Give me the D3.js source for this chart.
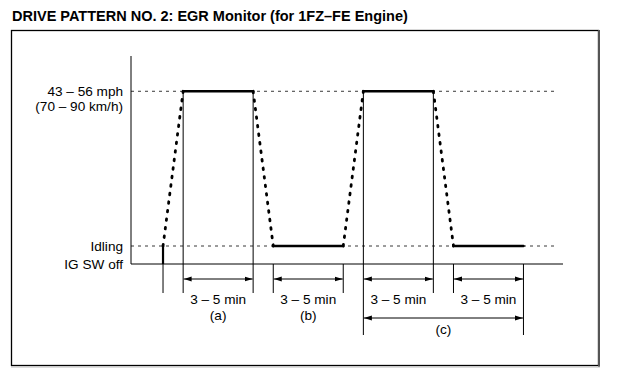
<!DOCTYPE html>
<html lang="en">
<head>
  <meta charset="utf-8">
  <title>Drive pattern no. 2</title>
  <script src="https://d3js.org/d3.v7.min.js"></script>
  <style>
    body { margin: 0; background: #fff; }
    text { font-family: "Liberation Sans", Arial, sans-serif; fill: #000; }
  </style>
</head>
<body>
  <script>
    // speed levels (mph-ish, schematic) and the pattern vertices (minutes)
    var levels = { off: 0, idle: 5, high: 48 };
    var times = [0, 1.15, 5.15, 6.3, 10.3, 11.45, 15.45, 16.6, 20.6];
    var speeds = [5, 48, 48, 5, 5, 48, 48, 5, 5];
    var yLabels = [
      { lines: ["43 – 56 mph", "(70 – 90 km/h)"], level: "high" },
      { lines: ["Idling"], level: "idle" },
      { lines: ["IG SW off"], level: "off" }
    ];
    // intervals below the axis
    var spans = [
      { from: 1.15, to: 5.15, text: "3 – 5 min", sub: "(a)" },
      { from: 6.3, to: 10.3, text: "3 – 5 min", sub: "(b)" },
      { from: 11.45, to: 15.45, text: "3 – 5 min", sub: "" },
      { from: 16.6, to: 20.6, text: "3 – 5 min", sub: "" }
    ];
    var bigSpan = { from: 11.45, to: 20.6, text: "(c)" };

    var W = 618, H = 381;
    var fs = 13.6;
    var x = d3.scaleLinear().domain([-1.83, 22.86]).range([131, 563]);
    var y = d3.scaleLinear().domain([0, 57.8]).range([264, 56]);

    var svg = d3.select("body").append("svg")
      .attr("width", W).attr("height", H);

    var defs = svg.append("defs");
    ["start", "end"].forEach(function(k) {
      defs.append("marker")
        .attr("id", "arr-" + k)
        .attr("viewBox", "0 0 8 6")
        .attr("refX", k == "end" ? 8 : 0).attr("refY", 3)
        .attr("markerWidth", 8).attr("markerHeight", 6)
        .attr("markerUnits", "userSpaceOnUse")
        .attr("orient", "auto")
        .append("path")
        .attr("d", k == "end" ? "M0,0.6L8,3L0,5.4Z" : "M8,0.6L0,3L8,5.4Z")
        .attr("fill", "#000");
    });

    // title
    svg.append("text")
      .attr("x", 12).attr("y", 20.5)
      .attr("font-size", 14.5).attr("font-weight", "bold")
      .text("DRIVE PATTERN NO. 2: EGR Monitor (for 1FZ–FE Engine)");

    // frame
    svg.append("rect")
      .attr("x", 11.5).attr("y", 30.5)
      .attr("width", 587).attr("height", 335)
      .attr("fill", "none").attr("stroke", "#000").attr("stroke-width", 1.3);
    svg.append("line")
      .attr("x1", 599).attr("x2", 599).attr("y1", 30).attr("y2", 367)
      .attr("stroke", "#555").attr("stroke-width", 2);
    svg.append("line")
      .attr("x1", 11).attr("x2", 600).attr("y1", 367).attr("y2", 367)
      .attr("stroke", "#bbb").attr("stroke-width", 1);

    // dashed reference levels
    [levels.high, levels.idle].forEach(function(v) {
      svg.append("line")
        .attr("x1", x(-1.83)).attr("x2", x(22.57))
        .attr("y1", y(v)).attr("y2", y(v))
        .attr("stroke", "#222").attr("stroke-width", 0.9)
        .attr("stroke-dasharray", "3,4");
    });

    // axes
    svg.append("line")
      .attr("x1", x(-1.83)).attr("x2", x(-1.83))
      .attr("y1", y(57.8)).attr("y2", y(0))
      .attr("stroke", "#000").attr("stroke-width", 1);
    svg.append("line")
      .attr("x1", x(-1.83)).attr("x2", x(22.86))
      .attr("y1", y(0)).attr("y2", y(0))
      .attr("stroke", "#000").attr("stroke-width", 1);

    // level labels
    yLabels.forEach(function(d) {
      var t = svg.append("text")
        .attr("text-anchor", "end")
        .attr("font-size", fs);
      d.lines.forEach(function(s, i) {
        t.append("tspan")
          .attr("x", 123)
          .attr("y", y(levels[d.level]) + 4.8 + i * 15)
          .text(s);
      });
    });

    // extension lines under the pattern
    var ext = [];
    times.forEach(function(t, i) {
      var top = speeds[i] == levels.high ? y(levels.high) : y(0);
      var bottom = (t == bigSpan.from || t == bigSpan.to) ? 335 : 293;
      if (i == 0) top = y(0);
      ext.push({ t: t, top: top, bottom: bottom });
    });
    svg.selectAll(".ext").data(ext).enter().append("line")
      .attr("class", "ext")
      .attr("x1", function(d) { return x(d.t); })
      .attr("x2", function(d) { return x(d.t); })
      .attr("y1", function(d) { return d.top; })
      .attr("y2", function(d) { return d.bottom; })
      .attr("stroke", "#000").attr("stroke-width", 1);

    // ignition on: off -> idle
    svg.append("line")
      .attr("x1", x(times[0])).attr("x2", x(times[0]))
      .attr("y1", y(levels.off)).attr("y2", y(levels.idle))
      .attr("stroke", "#000").attr("stroke-width", 2.2);

    // pattern segments: ramps dotted, steady parts solid
    var segs = d3.range(times.length - 1).map(function(i) {
      return { x0: times[i], x1: times[i + 1], v0: speeds[i], v1: speeds[i + 1] };
    });
    svg.selectAll(".seg").data(segs).enter().append("line")
      .attr("class", "seg")
      .attr("x1", function(d) { return x(d.x0); })
      .attr("x2", function(d) { return x(d.x1); })
      .attr("y1", function(d) { return y(d.v0); })
      .attr("y2", function(d) { return y(d.v1); })
      .attr("stroke", "#000")
      .attr("stroke-width", function(d) { return d.v0 == d.v1 ? 2.6 : 2.8; })
      .attr("stroke-linecap", "round")
      .attr("stroke-dasharray", function(d) { return d.v0 == d.v1 ? null : "1.6,7"; });

    // dimension arrows
    function arrow(d, ay) {
      svg.append("line")
        .attr("x1", x(d.from) + 0.5).attr("x2", x(d.to) - 0.5)
        .attr("y1", ay).attr("y2", ay)
        .attr("stroke", "#000").attr("stroke-width", 1)
        .attr("marker-start", "url(#arr-start)")
        .attr("marker-end", "url(#arr-end)");
    }
    spans.forEach(function(d) {
      arrow(d, 279);
      var cx = (x(d.from) + x(d.to)) / 2;
      svg.append("text").attr("x", cx).attr("y", 303.5)
        .attr("text-anchor", "middle").attr("font-size", fs).text(d.text);
      if (d.sub) {
        svg.append("text").attr("x", cx).attr("y", 320)
          .attr("text-anchor", "middle").attr("font-size", fs).text(d.sub);
      }
    });
    arrow(bigSpan, 318);
    svg.append("text")
      .attr("x", (x(bigSpan.from) + x(bigSpan.to)) / 2).attr("y", 334)
      .attr("text-anchor", "middle").attr("font-size", fs).text(bigSpan.text);
  </script>
</body>
</html>
